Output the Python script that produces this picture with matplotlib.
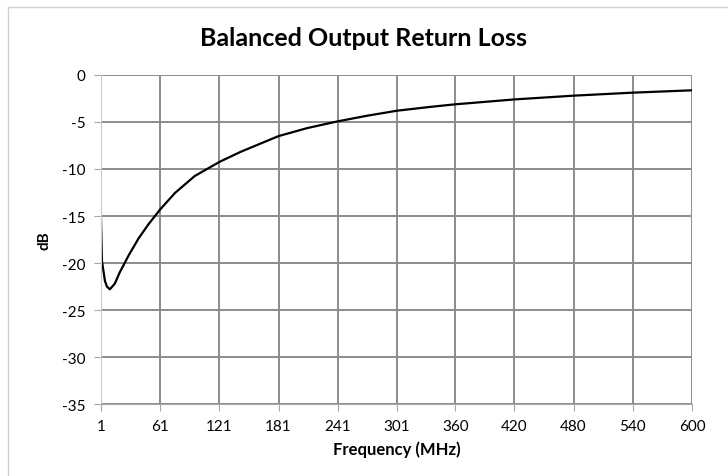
import numpy as np
import matplotlib
matplotlib.use("Agg")
import matplotlib.pyplot as plt
from matplotlib.lines import Line2D

plt.rcParams['font.family'] = ['Lato', 'DejaVu Sans']
plt.rcParams['axes.unicode_minus'] = False

# values
freq_mhz = [1, 2, 3, 5, 7, 10, 15, 20, 29, 39, 49, 61, 76, 96, 111, 121,
            142, 150, 181, 210, 241, 271, 301, 336, 360, 420, 480, 540, 600]
loss_db = [-15.3, -19.8, -20.5, -21.9, -22.5, -22.8, -22.2, -21.0, -19.2,
           -17.4, -15.9, -14.3, -12.55, -10.75, -9.85, -9.25, -8.2, -7.85,
           -6.5, -5.65, -4.93, -4.33, -3.8, -3.38, -3.12, -2.6, -2.2,
           -1.88, -1.63]
x_ticks = [1, 61, 121, 181, 241, 301, 360, 420, 480, 540, 600]
y_ticks = [0, -5, -10, -15, -20, -25, -30, -35]

fig = plt.figure(figsize=(7.28, 4.77), dpi=100)
ax = fig.add_axes([0.1387, 0.1509, 0.8118, 0.6898])

ax.plot(freq_mhz, loss_db, color='black', lw=1.6)

ax.set_xlim(1, 600)
ax.set_ylim(-35, 0)
ax.set_xticks(x_ticks)
ax.set_yticks(y_ticks)
ax.grid(True, color='#8c8c8c', lw=1.4)
ax.set_axisbelow(True)

for s in ['top', 'right']:
    ax.spines[s].set_visible(False)
ax.spines['left'].set_color('#c8c8c8')
ax.spines['bottom'].set_color('#a6a6a6')
ax.tick_params(axis='both', colors='#a6a6a6', length=5, labelsize=11,
               labelcolor='black', pad=6)

# title is centred on the whole chart, not the plot area
fig.text(0.5, 1 - 38 / 477, 'Balanced Output Return Loss', fontsize=18,
         fontweight='bold', ha='center', va='center')
ax.set_xlabel('Frequency (MHz)', fontsize=12, fontweight='bold', labelpad=5)
ax.set_ylabel('dB', fontsize=11, fontweight='bold', labelpad=8)

# chart area border (partly visible)
fig.add_artist(Line2D([8 / 728, 8 / 728], [0, 1 - 8 / 477],
                      transform=fig.transFigure, color='#d0d0d0', lw=1))
fig.add_artist(Line2D([8 / 728, 1], [1 - 8 / 477, 1 - 8 / 477],
                      transform=fig.transFigure, color='#d0d0d0', lw=1))

fig.savefig('out.png', dpi=100)
